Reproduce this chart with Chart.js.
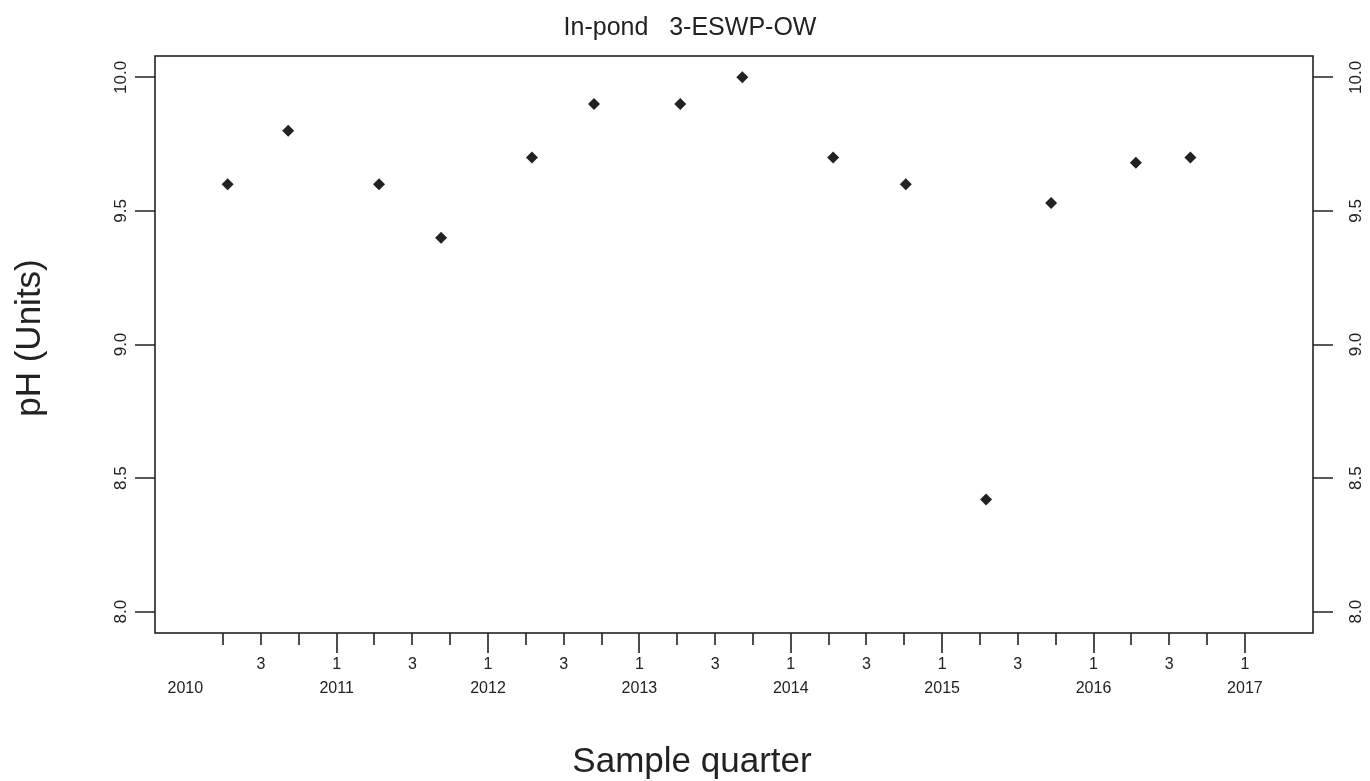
<!DOCTYPE html>
<html>
<head>
<meta charset="utf-8">
<title>In-pond 3-ESWP-OW</title>
<script src="https://cdn.jsdelivr.net/npm/chart.js@4.4.1/dist/chart.umd.min.js"></script>
<style>
  html, body { margin: 0; padding: 0; background: #fff; }
  #wrap { width: 1370px; height: 781px; }
</style>
</head>
<body>
<div id="wrap"><canvas id="ph" width="1370" height="781"></canvas></div>
<script>
// sample dates as decimal years, pH readings
const sampleTimes = [2010.28, 2010.68, 2011.28, 2011.69, 2012.29, 2012.70, 2013.27,
                     2013.68, 2014.28, 2014.76, 2015.29, 2015.72, 2016.28, 2016.64]
const phValues = [9.6, 9.8, 9.6, 9.4, 9.7, 9.9, 9.9, 10.0, 9.7, 9.6, 8.42, 9.53, 9.68, 9.7]

// axis ticks
const quarterTicks = [2010.25, 2010.5, 2010.75, 2011, 2011.25, 2011.5, 2011.75, 2012, 2012.25,
                      2012.5, 2012.75, 2013, 2013.25, 2013.5, 2013.75, 2014, 2014.25, 2014.5,
                      2014.75, 2015, 2015.25, 2015.5, 2015.75, 2016, 2016.25, 2016.5, 2016.75, 2017]
const quarterLabels = [
    [2010.5, '3'], [2011, '1'], [2011.5, '3'], [2012, '1'], [2012.5, '3'], [2013, '1'],
    [2013.5, '3'], [2014, '1'], [2014.5, '3'], [2015, '1'], [2015.5, '3'], [2016, '1'],
    [2016.5, '3'], [2017, '1']
]
const yearLabels = [2010, 2011, 2012, 2013, 2014, 2015, 2016, 2017]
const phTicks = [8.0, 8.5, 9.0, 9.5, 10.0]

const ink = '#222'
const font = 'Liberation Sans, Arial, Helvetica, sans-serif'

// box, ticks and labels drawn in R base-graphics style
const rAxes = {
    id: 'rAxes',
    afterDraw(chart) {
        const { ctx, chartArea: a, scales: { x, y } } = chart
        ctx.save()
        ctx.strokeStyle = ink
        ctx.fillStyle = ink
        ctx.lineWidth = 1.6
        ctx.strokeRect(a.left, a.top, a.right - a.left, a.bottom - a.top)

        // x ticks: quarters short, years long
        ctx.beginPath()
        for (const q of quarterTicks) {
            const px = Math.round(x.getPixelForValue(q))
            const len = Number.isInteger(q) ? 20 : 12
            ctx.moveTo(px, a.bottom)
            ctx.lineTo(px, a.bottom + len)
        }
        // y ticks both sides
        for (const v of phTicks) {
            const py = Math.round(y.getPixelForValue(v))
            ctx.moveTo(a.left, py)
            ctx.lineTo(a.left - 20, py)
            ctx.moveTo(a.right, py)
            ctx.lineTo(a.right + 20, py)
        }
        ctx.stroke()

        ctx.font = '16px ' + font
        ctx.textAlign = 'center'
        ctx.textBaseline = 'middle'
        for (const [q, t] of quarterLabels) {
            ctx.fillText(t, x.getPixelForValue(q), a.bottom + 32)
        }
        for (const yr of yearLabels) {
            ctx.fillText(String(yr), x.getPixelForValue(yr), a.bottom + 56)
        }

        // y tick labels, rotated
        ctx.font = '17px ' + font
        for (const v of phTicks) {
            const py = y.getPixelForValue(v)
            ctx.save()
            ctx.translate(a.left - 34, py)
            ctx.rotate(-Math.PI / 2)
            ctx.fillText(v.toFixed(1), 0, 0)
            ctx.restore()
            ctx.save()
            ctx.translate(a.right + 43, py)
            ctx.rotate(-Math.PI / 2)
            ctx.fillText(v.toFixed(1), 0, 0)
            ctx.restore()
        }

        // titles
        ctx.font = '25px ' + font
        ctx.fillText('In-pond   3-ESWP-OW', 690, 28)
        ctx.font = '35px ' + font
        ctx.fillText('Sample quarter', 692, 762)
        ctx.save()
        ctx.translate(30, 338)
        ctx.rotate(-Math.PI / 2)
        ctx.fillText('pH (Units)', 0, 0)
        ctx.restore()
        ctx.restore()
    }
}

new Chart(document.getElementById('ph'), {
    type: 'scatter',
    data: {
        datasets: [{
            label: 'pH',
            data: sampleTimes.map((t, i) => ({ x: t, y: phValues[i] })),
            pointStyle: 'rectRot',
            pointRadius: 6,
            backgroundColor: ink,
            borderColor: ink,
            borderWidth: 0
        }]
    },
    options: {
        animation: false,
        responsive: false,
        devicePixelRatio: 1,
        layout: { padding: { left: 155, right: 57, top: 56, bottom: 148 } },
        scales: {
            x: { type: 'linear', min: 2009.8, max: 2017.45, display: false },
            y: { type: 'linear', min: 7.92, max: 10.08, display: false }
        },
        plugins: {
            legend: { display: false },
            tooltip: { enabled: false }
        }
    },
    plugins: [rAxes]
})
</script>
</body>
</html>
